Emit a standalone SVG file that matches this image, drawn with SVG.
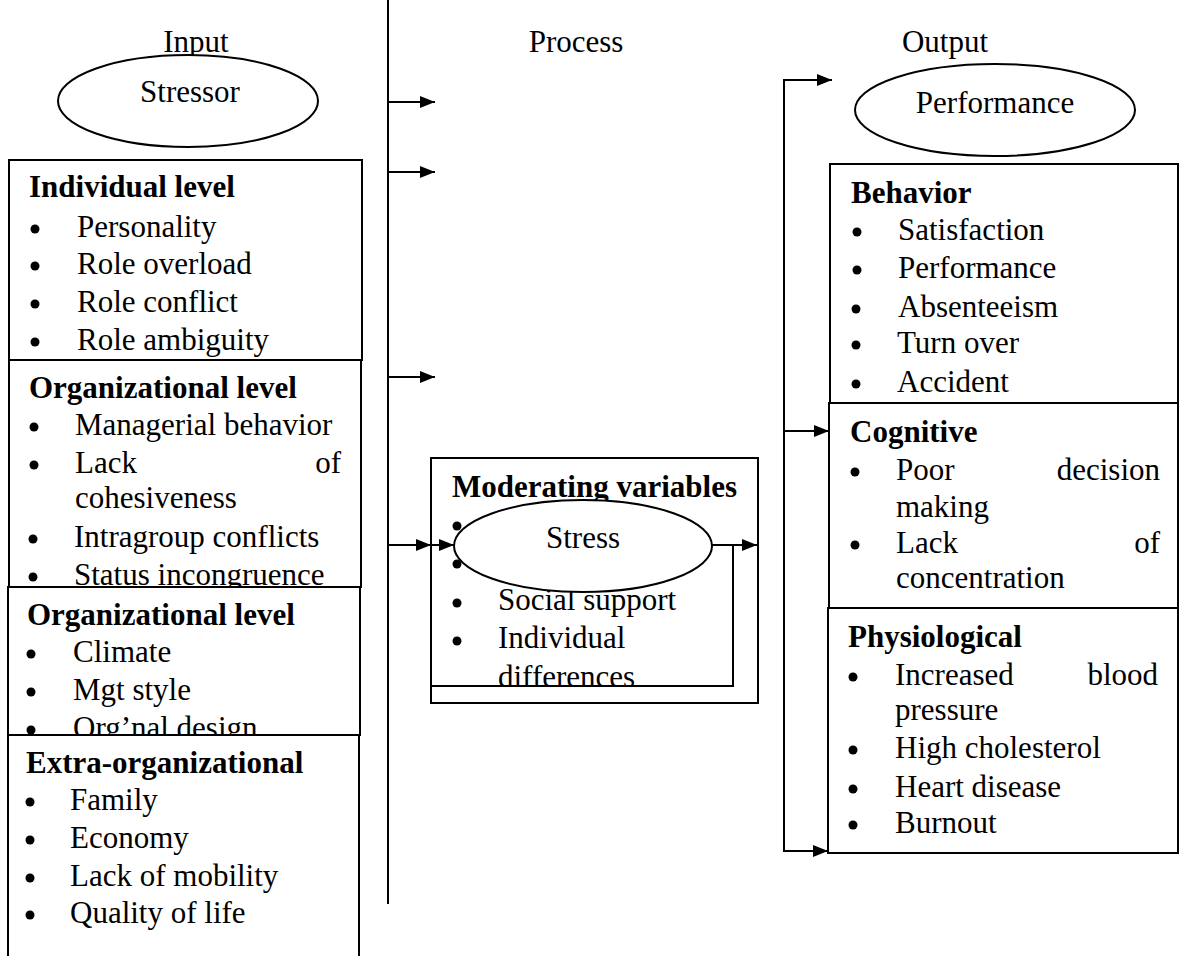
<svg xmlns="http://www.w3.org/2000/svg" width="1184" height="956" viewBox="0 0 1184 956" font-family="'Liberation Serif', 'DejaVu Serif', serif">
<style>
text{font-family:'Liberation Serif','DejaVu Serif',serif;font-size:31px;fill:#000}
.b{font-weight:bold}
.m{text-anchor:middle}
.e{text-anchor:end}
.box{fill:#fff;stroke:#000;stroke-width:2}
.ln{fill:none;stroke:#000;stroke-width:2}
.dot{fill:#000}
</style>
<defs>
<marker id="ah" viewBox="0 0 15 12" refX="15" refY="6" markerWidth="15" markerHeight="12" markerUnits="userSpaceOnUse" orient="auto">
<path d="M0,0 L15,6 L0,12 Z" fill="#000"/>
</marker>
<clipPath id="modclip"><rect x="431" y="458" width="327" height="228"/></clipPath>
</defs>
<rect width="1184" height="956" fill="#fff"/>

<g id="headers">
<text x="196" y="52" class="m">Input</text>
<text x="576" y="52" class="m">Process</text>
<text x="945" y="52" class="m">Output</text>
</g>

<g id="stressor">
<ellipse cx="188" cy="101" rx="130" ry="46" class="box"/>
<text x="190" y="102" class="m">Stressor</text>
</g>

<g id="individual">
<rect x="9" y="160" width="353" height="200" class="box"/>
<text x="29" y="197" class="b">Individual level</text>
<circle cx="35" cy="229" r="4.5" class="dot"/><text x="77" y="237">Personality</text>
<circle cx="35" cy="266" r="4.5" class="dot"/><text x="77" y="274">Role overload</text>
<circle cx="35" cy="304" r="4.5" class="dot"/><text x="77" y="312">Role conflict</text>
<circle cx="35" cy="342" r="4.5" class="dot"/><text x="77" y="350">Role ambiguity</text>
</g>

<g id="organizational1">
<rect x="9" y="360" width="352" height="227" class="box"/>
<text x="29" y="398" class="b">Organizational level</text>
<circle cx="34" cy="427" r="4.5" class="dot"/><text x="75" y="435">Managerial behavior</text>
<circle cx="34" cy="465" r="4.5" class="dot"/><text x="75" y="473">Lack</text><text x="341" y="473" class="e">of</text>
<text x="75" y="508">cohesiveness</text>
<circle cx="33" cy="539" r="4.5" class="dot"/><text x="74" y="547">Intragroup conflicts</text>
<circle cx="33" cy="577" r="4.5" class="dot"/><text x="74" y="585">Status incongruence</text>
</g>

<g id="organizational2">
<rect x="8" y="587" width="352" height="148" class="box"/>
<text x="27" y="625" class="b">Organizational level</text>
<circle cx="31" cy="654" r="4.5" class="dot"/><text x="73" y="662">Climate</text>
<circle cx="31" cy="692" r="4.5" class="dot"/><text x="73" y="700">Mgt style</text>
<circle cx="31" cy="730" r="4.5" class="dot"/><text x="73" y="738">Org’nal design</text>
</g>

<g id="extra">
<path d="M8,960 L8,735 L359,735 L359,960" class="box"/>
<text x="26" y="773" class="b">Extra-organizational</text>
<circle cx="30" cy="802" r="4.5" class="dot"/><text x="70" y="810">Family</text>
<circle cx="30" cy="840" r="4.5" class="dot"/><text x="70" y="848">Economy</text>
<circle cx="30" cy="878" r="4.5" class="dot"/><text x="70" y="886">Lack of mobility</text>
<circle cx="30" cy="915" r="4.5" class="dot"/><text x="70" y="923">Quality of life</text>
</g>

<g id="moderating">
<rect x="431" y="458" width="327" height="245" class="box"/>
<g clip-path="url(#modclip)">
<text x="452" y="497" class="b">Moderating variables</text>
<circle cx="457" cy="526" r="4.5" class="dot"/>
<circle cx="457" cy="564" r="4.5" class="dot"/>
<circle cx="457" cy="603" r="4.5" class="dot"/><text x="498" y="610">Social support</text>
<circle cx="457" cy="641" r="4.5" class="dot"/><text x="498" y="648">Individual</text>
<text x="498" y="687">differences</text>
</g>
</g>

<g id="stress">
<ellipse cx="583" cy="546" rx="129" ry="46" class="box"/>
<text x="583" y="548" class="m">Stress</text>
</g>

<g id="performance">
<ellipse cx="995" cy="110" rx="140" ry="46" class="box"/>
<text x="995" y="113" class="m">Performance</text>
</g>

<g id="behavior">
<rect x="830" y="164" width="348" height="239" class="box"/>
<text x="851" y="203" class="b">Behavior</text>
<circle cx="857" cy="232" r="4.5" class="dot"/><text x="898" y="240">Satisfaction</text>
<circle cx="857" cy="270" r="4.5" class="dot"/><text x="898" y="278">Performance</text>
<circle cx="856" cy="309" r="4.5" class="dot"/><text x="898" y="317">Absenteeism</text>
<circle cx="856" cy="345" r="4.5" class="dot"/><text x="897" y="353">Turn over</text>
<circle cx="856" cy="384" r="4.5" class="dot"/><text x="897" y="392">Accident</text>
</g>

<g id="cognitive">
<rect x="829" y="403" width="349" height="205" class="box"/>
<text x="850" y="442" class="b">Cognitive</text>
<circle cx="855" cy="472" r="4.5" class="dot"/><text x="896" y="480">Poor</text><text x="1160" y="480" class="e">decision</text>
<text x="896" y="517">making</text>
<circle cx="855" cy="545" r="4.5" class="dot"/><text x="896" y="553">Lack</text><text x="1160" y="553" class="e">of</text>
<text x="896" y="588">concentration</text>
</g>

<g id="physiological">
<rect x="828" y="608" width="350" height="245" class="box"/>
<text x="848" y="647" class="b">Physiological</text>
<circle cx="853" cy="677" r="4.5" class="dot"/><text x="895" y="685">Increased</text><text x="1158" y="685" class="e">blood</text>
<text x="895" y="720">pressure</text>
<circle cx="853" cy="750" r="4.5" class="dot"/><text x="895" y="758">High cholesterol</text>
<circle cx="853" cy="789" r="4.5" class="dot"/><text x="895" y="797">Heart disease</text>
<circle cx="853" cy="825" r="4.5" class="dot"/><text x="895" y="833">Burnout</text>
</g>

<g id="connectors">
<line x1="388" y1="0" x2="388" y2="904" class="ln"/>
<line x1="388" y1="102" x2="435" y2="102" class="ln" marker-end="url(#ah)"/>
<line x1="388" y1="172" x2="435" y2="172" class="ln" marker-end="url(#ah)"/>
<line x1="388" y1="377" x2="435" y2="377" class="ln" marker-end="url(#ah)"/>
<line x1="388" y1="545" x2="431" y2="545" class="ln" marker-end="url(#ah)"/>
<line x1="431" y1="545" x2="454" y2="545" class="ln" marker-end="url(#ah)"/>
<line x1="712" y1="545" x2="757" y2="545" class="ln" marker-end="url(#ah)"/>
<path d="M733,545 L733,686 L431,686" class="ln"/>
<path d="M832,80 L784,80 L784,851 L828,851" class="ln" marker-end="url(#ah)"/>
<line x1="784" y1="431" x2="829" y2="431" class="ln" marker-end="url(#ah)"/>
<line x1="800" y1="80" x2="832" y2="80" class="ln" marker-end="url(#ah)"/>
</g>
</svg>
